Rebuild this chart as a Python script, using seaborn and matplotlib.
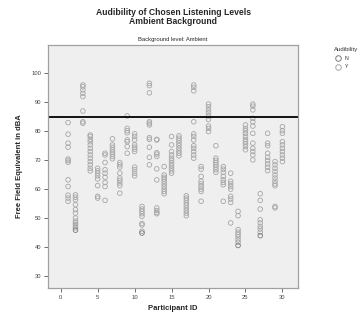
import numpy as np
import pandas as pd
import matplotlib
matplotlib.use("Agg")
import matplotlib.pyplot as plt
import seaborn as sns

## levels, one list per participant
levels = {
    1: [83, 79, 75.9, 74.5, 70.4, 69.9, 69.3, 63.2, 60.9, 57.9, 56.9, 55.8],
    2: [58.0, 57.2, 56.3, 54.6, 52.9, 51.7, 50, 48.9, 48.3, 47.7, 47.1, 46.6, 45.8],
    3: [96, 95.4, 94.3, 93.1, 92, 87, 83.3, 82.8],
    4: [78.7, 78.2, 77.2, 76.4, 75.3, 74.1, 73, 71.8, 70.7, 69.5, 68.4, 67.2, 66.3],
    5: [67.2, 66.3, 65.5, 64.6, 63.5, 61.2, 57.5, 56.9],
    6: [72.4, 71.8, 69.2, 66.7, 65.5, 64.1, 62.3, 60.9, 56.1],
    7: [77.4, 75.3, 74.5, 73.6, 72.8, 72.1, 71.3, 70.5],
    8: [69.2, 68.4, 67.6, 65.5, 63.8, 63, 62.1, 61.2, 58.6],
    9: [85.3, 81, 80.2, 79.5, 77, 76.4, 74.7, 72.4],
    10: [79.1, 78.2, 77, 75.3, 74.5, 73.8, 73, 67.6, 66.7, 65.5, 64.6],
    11: [54, 53.1, 52.3, 51.5, 50.6, 48.1, 47.6, 45.4, 44.8],
    12: [96.6, 95.8, 93.3, 83.3, 82.8, 82.2, 77.8, 77.2, 74.5, 71, 68.4],
    13: [77.2, 77, 72.6, 72.1, 71.3, 67, 63.2, 53.5, 52.6, 51.9, 51.5],
    14: [67.8, 64.9, 64.1, 63.5, 62.7, 61.8, 60.9, 60, 59.2, 58.4],
    15: [78.2, 75.3, 73, 71.8, 70.7, 69.9, 69, 68.1, 67.2, 66.3, 65.5],
    16: [78.4, 77.6, 76.8, 75.9, 75, 74.1, 73.2, 72.4, 71.5],
    17: [57.7, 56.9, 56.1, 55.2, 54.4, 53.5, 52.6, 51.7, 50.8],
    18: [96, 95.2, 94, 83.3, 79.1, 78.2, 77, 75, 74.1, 73, 71.8, 70.7],
    19: [67.8, 66.9, 64.4, 62.7, 61.8, 60.9, 60, 59.2, 55.8],
    20: [89.4, 88.5, 87.4, 86.4, 85.3, 84.1, 81.8, 81, 79.9],
    21: [75, 70.7, 69.9, 69.2, 68.4, 67.6, 66.7, 65.8],
    22: [67.8, 66.9, 65.8, 64.4, 63.2, 62.3, 61.5, 55.8],
    23: [65.5, 62.7, 61.8, 60.9, 60, 57.5, 56.6, 55.4, 48.3],
    24: [52.3, 50.8, 46, 45.1, 44.3, 43.5, 42.5, 41.6, 40.5],
    25: [82.2, 81, 80.2, 79.3, 78.2, 77.2, 76.4, 75.6, 74.7, 73.6],
    26: [89.4, 88.7, 87.4, 84.5, 83.3, 81.8, 79.3, 75.9, 74.1, 73, 71.8, 70.1],
    27: [58.4, 56.1, 53.1, 49.4, 48.3, 47.1, 46.2, 45.1, 43.9],
    28: [79.3, 75.9, 75, 72.4, 71, 69.9, 68.7, 67.6, 66.4],
    29: [69.5, 68.4, 67.2, 66.1, 64.9, 63.8, 62.7, 61.8, 61.2, 54, 53.5],
    30: [81.6, 80.2, 79.3, 76.4, 75.3, 74.1, 73, 71.8, 70.7, 69.5],
}
## participants whose lowest level was marked not audible
not_audible = [2, 11, 24, 27]
ref_level = 85
x_ticks = [0, 5, 10, 15, 20, 25, 30]
y_ticks = [30, 40, 50, 60, 70, 80, 90, 100]
aud_colors = {"N": "#7a7a7a", "Y": "#a6a6a6"}

rows = []
for pid, vals in levels.items():
    low = min(vals)
    for v in vals:
        aud = "N" if (pid in not_audible and v == low) else "Y"
        rows.append((pid, v, aud))
df = pd.DataFrame(rows, columns=["Participant ID", "Level", "Audibility"])

sns.set_style("white")
plt.rcParams['font.family'] = ['Liberation Sans', 'DejaVu Sans']

fig = plt.figure(figsize=(3.62, 3.2), dpi=100)
ax = fig.add_axes([0.133, 0.1, 0.69, 0.759])
ax.set_facecolor("#efefef")

sns.scatterplot(data=df, x="Participant ID", y="Level", hue="Audibility",
                hue_order=["N", "Y"], palette=aud_colors,
                marker="o", s=11, linewidth=0.6, ax=ax, legend=False)
# hollow circles: seaborn passes hue as facecolor, so move it to the edges
coll = ax.collections[0]
coll.set_edgecolors(coll.get_facecolors())
coll.set_facecolors("none")

ax.axhline(ref_level, color="black", linewidth=1.3)

ax.set_xlim(-1.7, 32.1)
ax.set_ylim(25.8, 109.8)
ax.set_xticks(x_ticks)
ax.set_yticks(y_ticks)
ax.tick_params(axis="both", labelsize=4.2, length=3, width=0.6, color="#555555",
               labelcolor="#444444", direction="out", pad=2)
ax.tick_params(axis="both", which="both", bottom=True, left=True)
for s in ax.spines.values():
    s.set_color("#a0a0a0")
    s.set_linewidth(0.9)

ax.set_xlabel("Participant ID", fontsize=5.5, fontweight="bold", labelpad=4)
ax.set_ylabel("Free Field Equivalent in dBA", fontsize=5.5, fontweight="bold", labelpad=6)
ax.set_title("Background level: Ambient", fontsize=4.2, pad=3)

fig.text(0.478, 0.975, "Audibility of Chosen Listening Levels\nAmbient Background",
         ha="center", va="top", fontsize=6.2, fontweight="bold", linespacing=1.0)

# legend
fig.text(0.955, 0.845, "Audibility", ha="center", va="center", fontsize=4.3, color="#333333")
for i, lab in enumerate(["N", "Y"]):
    yy = 0.818 - i * 0.027
    fig.lines.append(plt.Line2D([0.935], [yy], marker="o", markersize=4, markerfacecolor="none",
                                markeredgecolor=aud_colors[lab], markeredgewidth=0.7,
                                transform=fig.transFigure, linestyle="none"))
    fig.text(0.953, yy, lab, ha="left", va="center", fontsize=3.8, color="#333333")

fig.savefig("out.png", dpi=100)
